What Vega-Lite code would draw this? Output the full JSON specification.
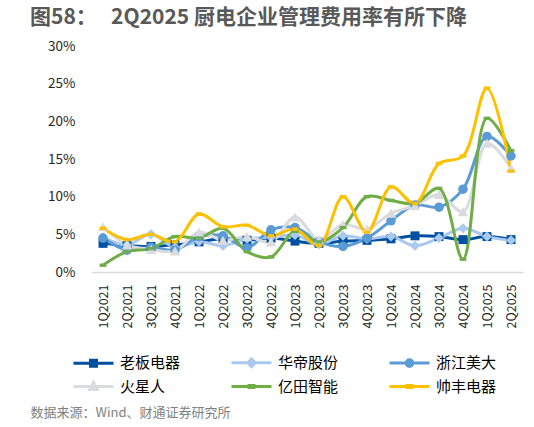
{
  "$schema": "https://vega.github.io/schema/vega-lite/v6.json",
  "width": 432,
  "height": 226,
  "autosize": {"type": "none"},
  "padding": {"left": 91, "top": 46, "right": 11, "bottom": 155},
  "background": "white",
  "config": {
    "view": {"stroke": null},
    "font": "Noto Sans CJK SC"
  },
  "title": {
    "text": "图58：\u00a0\u00a0\u00a02Q2025 厨电企业管理费用率有所下降",
    "anchor": "start",
    "frame": "group",
    "dx": -61,
    "offset": 11,
    "fontSize": 21,
    "fontWeight": "bold",
    "color": "#595959",
    "font": "Noto Sans CJK SC"
  },
  "data": {
    "values": [
      {"q": "1Q2021", "s": "老板电器", "v": 3.8}, {"q": "2Q2021", "s": "老板电器", "v": 3.5}, {"q": "3Q2021", "s": "老板电器", "v": 3.4}, {"q": "4Q2021", "s": "老板电器", "v": 3.6}, {"q": "1Q2022", "s": "老板电器", "v": 4.0}, {"q": "2Q2022", "s": "老板电器", "v": 4.4}, {"q": "3Q2022", "s": "老板电器", "v": 4.2}, {"q": "4Q2022", "s": "老板电器", "v": 4.5}, {"q": "1Q2023", "s": "老板电器", "v": 4.1}, {"q": "2Q2023", "s": "老板电器", "v": 3.8}, {"q": "3Q2023", "s": "老板电器", "v": 4.1}, {"q": "4Q2023", "s": "老板电器", "v": 4.2}, {"q": "1Q2024", "s": "老板电器", "v": 4.4}, {"q": "2Q2024", "s": "老板电器", "v": 4.8}, {"q": "3Q2024", "s": "老板电器", "v": 4.7}, {"q": "4Q2024", "s": "老板电器", "v": 4.3}, {"q": "1Q2025", "s": "老板电器", "v": 4.7}, {"q": "2Q2025", "s": "老板电器", "v": 4.3},
      {"q": "1Q2021", "s": "华帝股份", "v": 4.6}, {"q": "2Q2021", "s": "华帝股份", "v": 3.6}, {"q": "3Q2021", "s": "华帝股份", "v": 5.0}, {"q": "4Q2021", "s": "华帝股份", "v": 3.3}, {"q": "1Q2022", "s": "华帝股份", "v": 4.0}, {"q": "2Q2022", "s": "华帝股份", "v": 3.5}, {"q": "3Q2022", "s": "华帝股份", "v": 4.4}, {"q": "4Q2022", "s": "华帝股份", "v": 4.6}, {"q": "1Q2023", "s": "华帝股份", "v": 4.9}, {"q": "2Q2023", "s": "华帝股份", "v": 3.7}, {"q": "3Q2023", "s": "华帝股份", "v": 4.8}, {"q": "4Q2023", "s": "华帝股份", "v": 4.4}, {"q": "1Q2024", "s": "华帝股份", "v": 4.7}, {"q": "2Q2024", "s": "华帝股份", "v": 3.5}, {"q": "3Q2024", "s": "华帝股份", "v": 4.5}, {"q": "4Q2024", "s": "华帝股份", "v": 5.8}, {"q": "1Q2025", "s": "华帝股份", "v": 4.7}, {"q": "2Q2025", "s": "华帝股份", "v": 4.2},
      {"q": "1Q2021", "s": "浙江美大", "v": 4.5}, {"q": "2Q2021", "s": "浙江美大", "v": 2.9}, {"q": "3Q2021", "s": "浙江美大", "v": 3.3}, {"q": "4Q2021", "s": "浙江美大", "v": 2.9}, {"q": "1Q2022", "s": "浙江美大", "v": 4.7}, {"q": "2Q2022", "s": "浙江美大", "v": 4.8}, {"q": "3Q2022", "s": "浙江美大", "v": 3.2}, {"q": "4Q2022", "s": "浙江美大", "v": 5.6}, {"q": "1Q2023", "s": "浙江美大", "v": 5.9}, {"q": "2Q2023", "s": "浙江美大", "v": 4.0}, {"q": "3Q2023", "s": "浙江美大", "v": 3.4}, {"q": "4Q2023", "s": "浙江美大", "v": 4.5}, {"q": "1Q2024", "s": "浙江美大", "v": 6.8}, {"q": "2Q2024", "s": "浙江美大", "v": 8.9}, {"q": "3Q2024", "s": "浙江美大", "v": 8.6}, {"q": "4Q2024", "s": "浙江美大", "v": 11.0}, {"q": "1Q2025", "s": "浙江美大", "v": 18.0}, {"q": "2Q2025", "s": "浙江美大", "v": 15.4},
      {"q": "1Q2021", "s": "火星人", "v": 6.0}, {"q": "2Q2021", "s": "火星人", "v": 3.6}, {"q": "3Q2021", "s": "火星人", "v": 3.0}, {"q": "4Q2021", "s": "火星人", "v": 2.8}, {"q": "1Q2022", "s": "火星人", "v": 5.3}, {"q": "2Q2022", "s": "火星人", "v": 4.2}, {"q": "3Q2022", "s": "火星人", "v": 4.7}, {"q": "4Q2022", "s": "火星人", "v": 4.0}, {"q": "1Q2023", "s": "火星人", "v": 7.3}, {"q": "2Q2023", "s": "火星人", "v": 4.3}, {"q": "3Q2023", "s": "火星人", "v": 6.3}, {"q": "4Q2023", "s": "火星人", "v": 5.7}, {"q": "1Q2024", "s": "火星人", "v": 7.8}, {"q": "2Q2024", "s": "火星人", "v": 8.8}, {"q": "3Q2024", "s": "火星人", "v": 10.3}, {"q": "4Q2024", "s": "火星人", "v": 8.0}, {"q": "1Q2025", "s": "火星人", "v": 17.1}, {"q": "2Q2025", "s": "火星人", "v": 13.8},
      {"q": "1Q2021", "s": "亿田智能", "v": 0.9}, {"q": "2Q2021", "s": "亿田智能", "v": 2.7}, {"q": "3Q2021", "s": "亿田智能", "v": 3.1}, {"q": "4Q2021", "s": "亿田智能", "v": 4.7}, {"q": "1Q2022", "s": "亿田智能", "v": 4.5}, {"q": "2Q2022", "s": "亿田智能", "v": 5.8}, {"q": "3Q2022", "s": "亿田智能", "v": 2.7}, {"q": "4Q2022", "s": "亿田智能", "v": 2.0}, {"q": "1Q2023", "s": "亿田智能", "v": 5.4}, {"q": "2Q2023", "s": "亿田智能", "v": 4.0}, {"q": "3Q2023", "s": "亿田智能", "v": 5.9}, {"q": "4Q2023", "s": "亿田智能", "v": 10.0}, {"q": "1Q2024", "s": "亿田智能", "v": 9.5}, {"q": "2Q2024", "s": "亿田智能", "v": 9.1}, {"q": "3Q2024", "s": "亿田智能", "v": 11.1}, {"q": "4Q2024", "s": "亿田智能", "v": 1.7}, {"q": "1Q2025", "s": "亿田智能", "v": 20.4}, {"q": "2Q2025", "s": "亿田智能", "v": 16.1},
      {"q": "1Q2021", "s": "帅丰电器", "v": 5.8}, {"q": "2Q2021", "s": "帅丰电器", "v": 4.3}, {"q": "3Q2021", "s": "帅丰电器", "v": 5.0}, {"q": "4Q2021", "s": "帅丰电器", "v": 4.0}, {"q": "1Q2022", "s": "帅丰电器", "v": 7.7}, {"q": "2Q2022", "s": "帅丰电器", "v": 6.0}, {"q": "3Q2022", "s": "帅丰电器", "v": 6.2}, {"q": "4Q2022", "s": "帅丰电器", "v": 4.8}, {"q": "1Q2023", "s": "帅丰电器", "v": 5.7}, {"q": "2Q2023", "s": "帅丰电器", "v": 3.5}, {"q": "3Q2023", "s": "帅丰电器", "v": 10.0}, {"q": "4Q2023", "s": "帅丰电器", "v": 5.3}, {"q": "1Q2024", "s": "帅丰电器", "v": 11.3}, {"q": "2Q2024", "s": "帅丰电器", "v": 9.1}, {"q": "3Q2024", "s": "帅丰电器", "v": 14.4}, {"q": "4Q2024", "s": "帅丰电器", "v": 15.4}, {"q": "1Q2025", "s": "帅丰电器", "v": 24.4}, {"q": "2Q2025", "s": "帅丰电器", "v": 13.4}
    ]
  },
  "encoding": {
    "x": {
      "field": "q",
      "type": "ordinal",
      "sort": null,
      "scale": {"type": "point", "padding": 0.5},
      "axis": {
        "title": "数据来源：Wind、财通证券研究所",
        "titleX": -61,
        "titleY": 140,
        "titleAlign": "left",
        "titleBaseline": "middle",
        "titleAnchor": "start",
        "titleFontSize": 13,
        "titleFontWeight": "normal",
        "titleColor": "#7f7f7f",
        "titleFont": "Noto Sans CJK SC",
        "labelAngle": -90,
        "labelAlign": "right",
        "labelBaseline": "middle",
        "labelFontSize": 12.5,
        "labelColor": "#262626",
        "labelFont": "Noto Sans CJK SC",
        "labelPadding": 12,
        "ticks": false,
        "domainColor": "#d9d9d9",
        "domainWidth": 1.5,
        "grid": false
      }
    },
    "y": {
      "field": "v",
      "type": "quantitative",
      "scale": {"domain": [0, 30], "nice": false},
      "axis": {
        "title": null,
        "values": [0, 5, 10, 15, 20, 25, 30],
        "labelExpr": "datum.value + '%'",
        "labelFontSize": 13.5,
        "labelColor": "#262626",
        "labelFont": "Noto Sans CJK SC",
        "labelPadding": 16,
        "ticks": false,
        "domain": false,
        "grid": false
      }
    },
    "color": {
      "field": "s",
      "type": "nominal",
      "sort": ["老板电器", "华帝股份", "浙江美大", "火星人", "亿田智能", "帅丰电器"],
      "scale": {
        "domain": ["老板电器", "华帝股份", "浙江美大", "火星人", "亿田智能", "帅丰电器"],
        "range": ["#0050A2", "#A9C9F0", "#5B9BD5", "#D9DBDE", "#70AD47", "#FFC000"]
      },
      "legend": {
        "orient": "none",
        "direction": "horizontal",
        "legendX": -19,
        "legendY": 305,
        "columns": 3,
        "title": null,
        "symbolSize": 400,
        "symbolStrokeWidth": 3,
        "symbolType": "M-1,0H3",
        "labelFontSize": 15,
        "labelFont": "Noto Sans CJK SC",
        "labelColor": "#000000",
        "labelOffset": 25,
        "columnPadding": 44,
        "rowPadding": 2,
        "encode": {
          "symbols": {
            "update": {
              "shape": {"signal": "datum.value === '老板电器' ? 'M-1,0H3M0.7,-0.3H1.3V0.3H0.7Z' : datum.value === '华帝股份' ? 'M-1,0H3M1,-0.38L1.38,0L1,0.38L0.62,0Z' : datum.value === '浙江美大' ? 'M-1,0H3M0.67,0A0.33,0.33,0,1,0,1.33,0A0.33,0.33,0,1,0,0.67,0Z' : datum.value === '火星人' ? 'M-1,0H3M1,-0.4L1.38,0.3L0.62,0.3Z' : 'M-1,0H3M0.75,-0.1H1.25V0.1H0.75Z'"},
              "fill": {"scale": "color", "field": "value"},
              "stroke": {"scale": "color", "field": "value"},
              "strokeWidth": {"value": 3},
              "opacity": {"value": 1}
            }
          }
        }
      }
    }
  },
  "layer": [
    {
      "mark": {"type": "line", "interpolate": "catmull-rom", "strokeWidth": 3}
    },
    {
      "transform": [{"filter": {"field": "s", "equal": "老板电器"}}],
      "mark": {"type": "point", "filled": true, "opacity": 1, "shape": "square", "size": 80}
    },
    {
      "transform": [{"filter": {"field": "s", "equal": "华帝股份"}}],
      "mark": {"type": "point", "filled": true, "opacity": 1, "shape": "diamond", "size": 100}
    },
    {
      "transform": [{"filter": {"field": "s", "equal": "浙江美大"}}],
      "mark": {"type": "point", "filled": true, "opacity": 1, "shape": "circle", "size": 90}
    },
    {
      "transform": [{"filter": {"field": "s", "equal": "火星人"}}],
      "mark": {"type": "point", "filled": true, "opacity": 1, "shape": "triangle-up", "size": 110}
    },
    {
      "transform": [{"filter": {"field": "s", "oneOf": ["亿田智能", "帅丰电器"]}}],
      "mark": {"type": "point", "filled": true, "opacity": 1, "shape": "M-1,-0.5H1V0.5H-1Z", "size": 45}
    }
  ]
}
